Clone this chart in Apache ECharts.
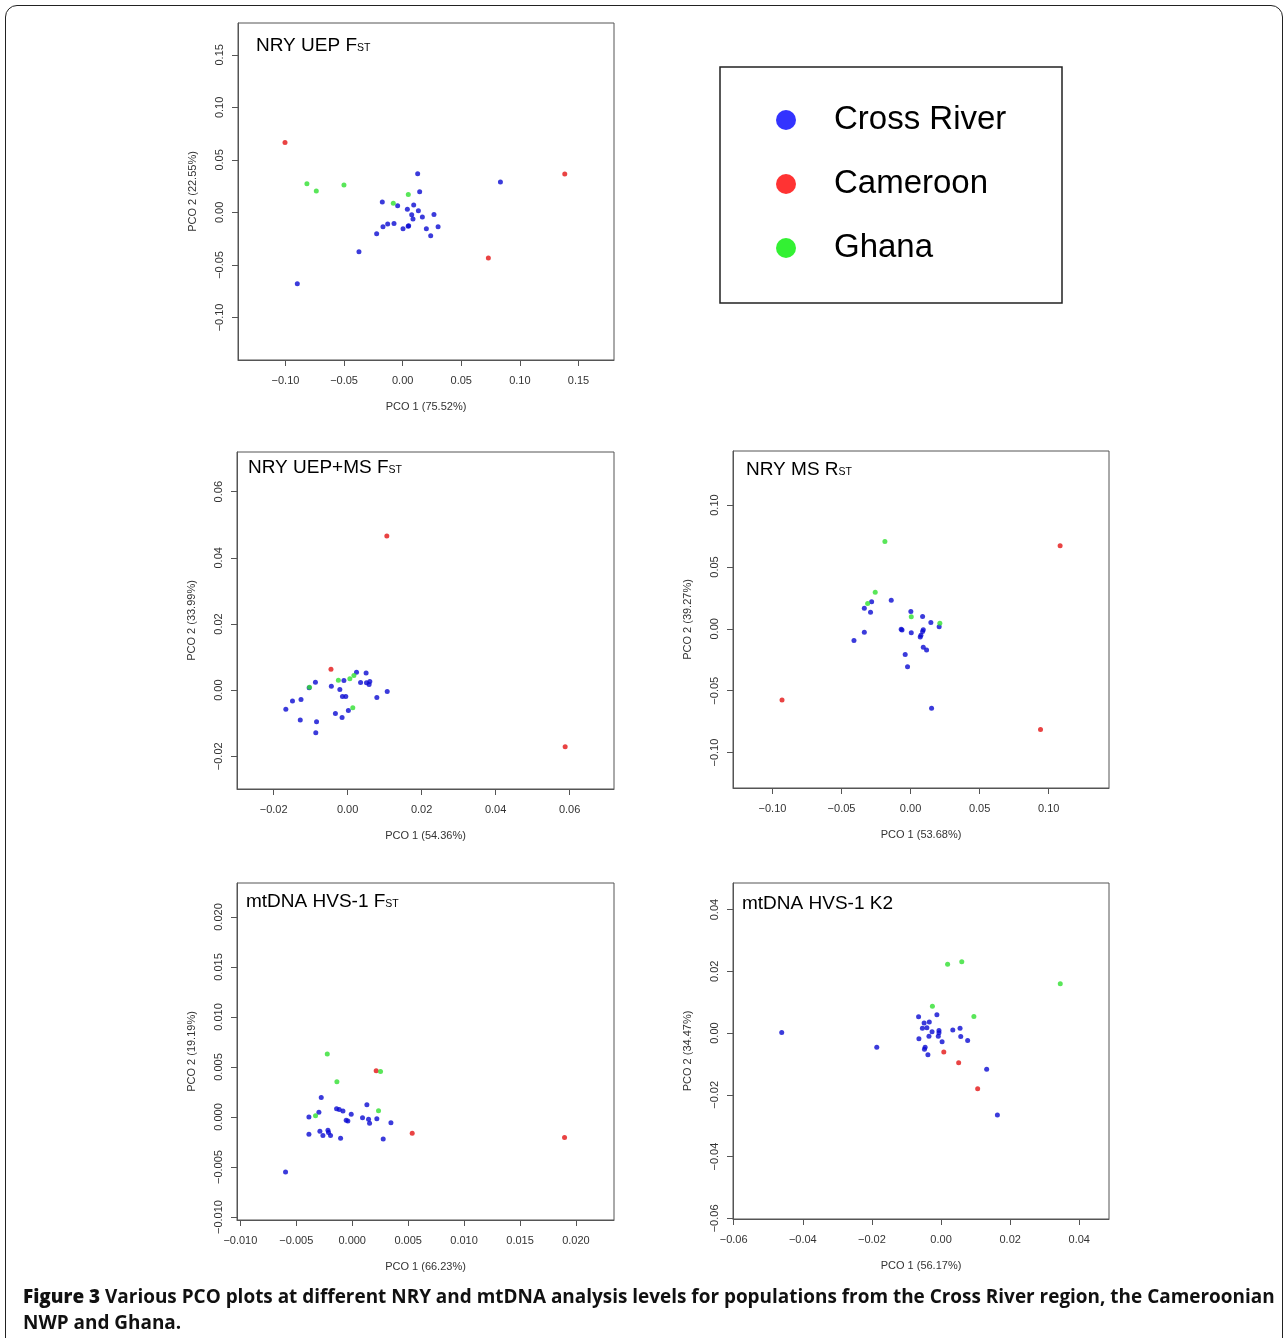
<!DOCTYPE html>
<html>
<head>
<meta charset="utf-8">
<title>PCO plots</title>
<script src="https://cdn.jsdelivr.net/npm/echarts@6/dist/echarts.min.js"></script>
<style>
    html, body {
        margin: 0;
        padding: 0;
        background: #fff;
    }

    #frame {
        position: absolute;
        left: 5px;
        top: 5px;
        width: 1276px;
        height: 1400px;
        border: 1.5px solid #222;
        border-radius: 12px;
    }

    #chart {
        position: absolute;
        left: 0;
        top: 0;
        width: 1287px;
        height: 1338px;
    }

    #caption {
        position: absolute;
        left: 23px;
        top: 1283px;
        font-family: "Open Sans", sans-serif;
        font-weight: 700;
        font-size: 18.95px;
        line-height: 26px;
        color: #111;
        white-space: nowrap;
    }

    #caption b {
        font-weight: 800;
    }
</style>
</head>
<body>
<div id="frame"></div>
<div id="chart"></div>
<div id="caption"><b>Figure 3</b> Various PCO plots at different NRY and mtDNA analysis levels for populations from the Cross River region, the Cameroonian<br>NWP and Ghana.</div>
<script>
    var groups = ['Cross River', 'Cameroon', 'Ghana'];

    // NRY UEP Fst
    var uepFstCrossRiver = [[0.0834, 0.0289], [0.0128, 0.0368], [0.0145, 0.0197], [-0.0174, 0.0098], [-0.0043, 0.0063],
        [0.0094, 0.0070], [0.0040, 0.0029], [0.0134, 0.0016], [0.0077, -0.0022], [0.0088, -0.0063], [0.0168, -0.0044],
        [0.0267, -0.0019], [-0.0074, -0.0105], [-0.0128, -0.0111], [-0.0168, -0.0136], [0.0051, -0.0127],
        [0.0047, -0.0132], [0.0003, -0.0155], [0.0202, -0.0155], [0.0302, -0.0136], [0.0239, -0.0222],
        [-0.0222, -0.0203], [-0.0373, -0.0374], [-0.0899, -0.0679]];
    var uepFstCameroon = [[-0.1004, 0.0666], [0.1383, 0.0365], [0.0731, -0.0435]];
    var uepFstGhana = [[-0.0817, 0.0273], [-0.0737, 0.0203], [-0.0501, 0.0260], [0.0048, 0.0171], [-0.0080, 0.0086]];

    // NRY UEP+MS Fst
    var uepMsFstCrossRiver = [[0.0024, 0.0054], [0.0050, 0.0052], [-0.0010, 0.0029], [-0.0087, 0.0024], [-0.0104, 0.0007],
        [-0.0044, 0.0012], [0.0035, 0.0023], [0.0051, 0.0022], [0.0060, 0.0026], [0.0058, 0.0017], [-0.0021, 0.0002],
        [-0.0014, -0.0019], [-0.0005, -0.0019], [0.0107, -0.0004], [0.0079, -0.0022], [-0.0126, -0.0028],
        [-0.0149, -0.0033], [-0.0167, -0.0058], [0.0002, -0.0062], [-0.0033, -0.0071], [-0.0015, -0.0083],
        [-0.0128, -0.0090], [-0.0084, -0.0096], [-0.0086, -0.0129]];
    var uepMsFstCameroon = [[0.0106, 0.0466], [0.0588, -0.0171], [-0.0045, 0.0063]];
    var uepMsFstGhana = [[-0.0025, 0.0030], [0.0006, 0.0034], [0.0017, 0.0044], [-0.0103, 0.0009], [0.0014, -0.0053]];

    // NRY MS Rst
    var msRstCrossRiver = [[-0.0140, 0.0232], [-0.0282, 0.0218], [-0.0335, 0.0167], [-0.0290, 0.0135], [0.0002, 0.0140],
        [0.0087, 0.0100], [0.0147, 0.0051], [0.0207, 0.0016], [-0.0068, -0.0003], [-0.0062, -0.0010], [0.0005, -0.0032],
        [0.0092, -0.0008], [0.0087, -0.0022], [0.0075, -0.0051], [0.0070, -0.0065], [-0.0335, -0.0027],
        [-0.0410, -0.0094], [0.0092, -0.0148], [0.0116, -0.0170], [-0.0039, -0.0208], [-0.0022, -0.0307],
        [0.0152, -0.0642]];
    var msRstCameroon = [[0.1083, 0.0671], [-0.0931, -0.0574], [0.0941, -0.0814]];
    var msRstGhana = [[-0.0186, 0.0706], [-0.0256, 0.0296], [-0.0311, 0.0205], [0.0005, 0.0097], [0.0212, 0.0046]];

    // mtDNA HVS-1 Fst
    var hvsFstCrossRiver = [[-0.00277, 0.00196], [0.00131, 0.00123], [-0.00140, 0.00083], [-0.00116, 0.00076],
        [-0.00083, 0.00060], [-0.00298, 0.00047], [-0.00009, 0.00027], [-0.00387, 0.00000], [-0.00054, -0.00033],
        [-0.00039, -0.00040], [0.00092, -0.00007], [0.00146, -0.00023], [0.00220, -0.00017], [0.00155, -0.00063],
        [0.00346, -0.00057], [-0.00387, -0.00173], [-0.00289, -0.00143], [-0.00217, -0.00133], [-0.00212, -0.00156],
        [-0.00262, -0.00186], [-0.00194, -0.00186], [-0.00104, -0.00213], [0.00277, -0.00220], [-0.00596, -0.00549]];
    var hvsFstCameroon = [[0.00214, 0.00462], [0.00536, -0.00163], [0.01898, -0.00206]];
    var hvsFstGhana = [[-0.00223, 0.00629], [0.00253, 0.00456], [-0.00137, 0.00353], [0.00235, 0.00063], [-0.00328, 0.00013]];

    // mtDNA HVS-1 K2
    var hvsK2CrossRiver = [[-0.0461, 0.0002], [-0.0186, -0.0046], [0.0132, -0.0117], [0.0163, -0.0265], [-0.0012, 0.0059],
        [-0.0065, 0.0053], [-0.0049, 0.0033], [-0.0034, 0.0036], [-0.0054, 0.0016], [-0.0041, 0.0017], [-0.0026, 0.0004],
        [-0.0006, 0.0008], [-0.0006, 0.0001], [-0.0008, -0.0010], [0.0034, 0.0010], [0.0055, 0.0016], [-0.0035, -0.0010],
        [0.0057, -0.0011], [-0.0064, -0.0018], [0.0003, -0.0028], [0.0077, -0.0024], [-0.0046, -0.0046],
        [-0.0048, -0.0052], [-0.0038, -0.0070]];
    var hvsK2Cameroon = [[0.0008, -0.0061], [0.0051, -0.0096], [0.0106, -0.0180]];
    var hvsK2Ghana = [[0.0019, 0.0223], [0.0060, 0.0231], [0.0345, 0.0160], [-0.0025, 0.0087], [0.0095, 0.0054]];

    var titleMain = ['NRY UEP F', 'NRY UEP+MS F', 'NRY MS R', 'mtDNA HVS-1 F', 'mtDNA HVS-1 K2'];
    var titleSub = ['ST', 'ST', 'ST', 'ST', ''];
    var xNames = ['PCO 1 (75.52%)', 'PCO 1 (54.36%)', 'PCO 1 (53.68%)', 'PCO 1 (66.23%)', 'PCO 1 (56.17%)'];
    var yNames = ['PCO 2 (22.55%)', 'PCO 2 (33.99%)', 'PCO 2 (39.27%)', 'PCO 2 (19.19%)', 'PCO 2 (34.47%)'];
    var ticks = [
        [-0.10, -0.05, 0, 0.05, 0.10, 0.15],
        [-0.02, 0, 0.02, 0.04, 0.06],
        [-0.10, -0.05, 0, 0.05, 0.10],
        [-0.010, -0.005, 0, 0.005, 0.010, 0.015, 0.020],
        [-0.06, -0.04, -0.02, 0, 0.02, 0.04]
    ];
    var tickDecimals = [2, 2, 2, 3, 2];
    // same limits on both axes of a panel
    var limits = [[-0.1405, 0.1803], [-0.0299, 0.0720], [-0.1286, 0.1437], [-0.0103, 0.0234], [-0.0602, 0.0486]];
    var panelData = [
        [uepFstCrossRiver, uepFstCameroon, uepFstGhana],
        [uepMsFstCrossRiver, uepMsFstCameroon, uepMsFstGhana],
        [msRstCrossRiver, msRstCameroon, msRstGhana],
        [hvsFstCrossRiver, hvsFstCameroon, hvsFstGhana],
        [hvsK2CrossRiver, hvsK2Cameroon, hvsK2Ghana]
    ];

    var dotColors = ['#0a0ad2', '#e41414', '#2fe02f'];
    var legendColors = ['#0000ff', '#ff0000', '#00ee00'];
    var font = '"Liberation Sans", Arial, sans-serif';

    // plot boxes
    var boxes = [
        {left: 238, top: 23, width: 376, height: 337},
        {left: 237, top: 452, width: 377, height: 337},
        {left: 733, top: 451, width: 376, height: 337},
        {left: 237, top: 883, width: 377, height: 337},
        {left: 733, top: 883, width: 376, height: 336}
    ];
    var titlePos = [[256, 35], [248, 457], [746, 459], [246, 891], [742, 893]];

    var chartDom = document.getElementById('chart');
    var myChart = echarts.init(chartDom, null, {renderer: 'canvas'});

    function makeAxis(i, isY) {
        var dec = tickDecimals[i];
        return {
            type: 'value',
            gridIndex: i,
            min: limits[i][0],
            max: limits[i][1],
            splitLine: {show: false},
            axisLine: {show: true, onZero: false, lineStyle: {color: '#555', width: 1}},
            axisTick: {show: true, length: 6, customValues: ticks[i], lineStyle: {color: '#555'}},
            axisLabel: {
                customValues: ticks[i],
                rotate: isY ? 90 : 0,
                margin: isY ? 13 : 15,
                fontSize: 11,
                fontFamily: font,
                color: '#333',
                formatter: function (v) {
                    return Number(v).toFixed(dec).replace('-', '\u2212');
                }
            },
            name: isY ? yNames[i] : xNames[i],
            nameLocation: 'middle',
            nameGap: isY ? 40 : 41,
            nameTextStyle: {fontSize: 11, fontFamily: font, color: '#333'}
        };
    }

    var grids = [], xAxes = [], yAxes = [], titles = [], series = [];
    for (var i = 0; i < 5; i++) {
        grids.push({
            left: boxes[i].left, top: boxes[i].top, width: boxes[i].width, height: boxes[i].height,
            show: true, borderColor: '#555', borderWidth: 1, backgroundColor: 'transparent'
        });
        xAxes.push(makeAxis(i, false));
        yAxes.push(makeAxis(i, true));
        titles.push({
            text: titleMain[i] + (titleSub[i] ? '{s|' + titleSub[i] + '}' : ''),
            left: titlePos[i][0],
            top: titlePos[i][1],
            padding: 0,
            textStyle: {
                fontSize: 19, fontWeight: 'normal', color: '#000', fontFamily: font, lineHeight: 22,
                rich: {s: {fontSize: 10.5, fontFamily: font, color: '#000', verticalAlign: 'bottom', lineHeight: 12, padding: [0, 0, 3, 0]}}
            }
        });
        for (var g = 0; g < groups.length; g++) {
            series.push({
                type: 'scatter',
                name: groups[g],
                xAxisIndex: i,
                yAxisIndex: i,
                data: panelData[i][g],
                symbol: 'circle',
                symbolSize: 5,
                itemStyle: {color: dotColors[g]},
                emphasis: {disabled: true}
            });
        }
    }

    var option = {
        animation: false,
        backgroundColor: 'transparent',
        title: titles,
        grid: grids,
        xAxis: xAxes,
        yAxis: yAxes,
        legend: {
            data: groups.map(function (n, k) {
                return {name: n, itemStyle: {color: legendColors[k]}};
            }),
            orient: 'vertical',
            left: 776,
            top: 100,
            padding: 0,
            icon: 'circle',
            itemWidth: 20,
            itemHeight: 20,
            itemGap: 24,
            selectedMode: false,
            textStyle: {fontSize: 33, lineHeight: 40, color: '#000', fontFamily: font, padding: [0, 0, 0, 33]}
        },
        graphic: [{
            type: 'rect',
            shape: {x: 720, y: 67, width: 342, height: 236},
            style: {fill: 'none', stroke: '#222', lineWidth: 1.5},
            silent: true
        }],
        series: series
    };

    option && myChart.setOption(option);
</script>
</body>
</html>
